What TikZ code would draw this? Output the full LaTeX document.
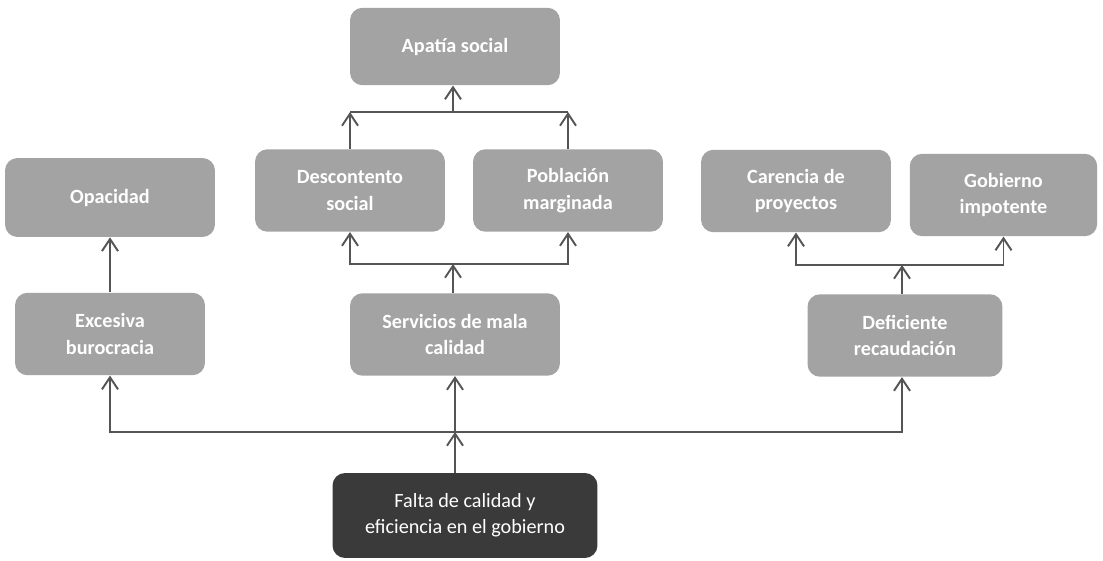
\documentclass[tikz,border=0pt]{standalone}
\usepackage{fontspec}
\setmainfont{Carlito}
\usepackage{tikz}
\usetikzlibrary{arrows,arrows.meta,positioning}
\definecolor{boxgray}{RGB}{163,163,163}
\definecolor{darkbox}{RGB}{58,58,58}
\definecolor{linegray}{RGB}{85,85,85}

\begin{document}
\begin{tikzpicture}[
    x=0.02cm, y=-0.02cm,
    >={Straight Barb[length=2.4mm,width=3.2mm]},
    font=\fontsize{11}{14.5}\selectfont,
    effect/.style={
		rectangle,
		rounded corners=2.5mm,
		fill=boxgray,
		text=white,
		font=\fontsize{11.5}{15}\selectfont\bfseries,
		align=center,
		minimum width=3.8cm,
		minimum height=1.65cm
	},
	problem/.style={
		effect,
		fill=darkbox,
		font=\fontsize{11.5}{15}\selectfont,
		minimum width=5.3cm,
		minimum height=1.7cm
	},
	link/.style={
		draw=linegray,
		line width=1.1pt
	}
  ]
  \useasboundingbox (0,0) rectangle (1103,561);

    % upper blocks
  \node [effect, minimum width=4.2cm, minimum height=1.55cm] (apatia) at (455,46.5) {Apat\'ia social};
  \node [effect] (descontento) at (350,190.5) {Descontento\\social};
  \node [effect] (poblacion) at (568,190.5) {Poblaci\'on\\marginada};
  \node [effect, minimum width=4.2cm, minimum height=1.58cm] (opacidad) at (110,197.5) {Opacidad};
  \node [effect] (carencia) at (796,191) {Carencia de\\proyectos};
  \node [effect, minimum width=3.75cm] (gobierno) at (1003.5,195) {Gobierno\\impotente};

    % middle blocks
  \node [effect] (excesiva) at (110,334) {Excesiva\\burocracia};
  \node [effect, minimum width=4.2cm] (servicios) at (455,334.5) {Servicios de mala\\calidad};
  \node [effect, minimum width=3.9cm] (deficiente) at (905,335.5) {Deficiente\\recaudaci\'on};

    % the problem
  \node [problem] (falta) at (465,515.5) {Falta de calidad y\\eficiencia en el gobierno};

    % junction points
  \coordinate (bbar) at (455,432);
  \coordinate (mbar) at (453,264);
  \coordinate (rbar) at (902,265);
  \coordinate (tbar) at (453,112);

 \draw [link,->] (falta.north -| bbar) -- (bbar);
 \draw [link,->] (bbar) -- (servicios.south -| bbar);
 \draw [link,->] (bbar) -| (excesiva.south);
 \draw [link,->] (bbar) -| (deficiente.south -| rbar);
 \draw [link,->] (excesiva.north) -- (opacidad.south);

 \draw [link,->] (servicios.north -| mbar) -- (mbar);
 \draw [link,->] (mbar) -| (descontento.south);
 \draw [link,->] (mbar) -| (poblacion.south);

 \draw [link,->] (deficiente.north -| rbar) -- (rbar);
 \draw [link,->] (rbar) -| (carencia.south);
 \draw [link,->] (rbar) -| (gobierno.south);

 \draw [link] (descontento.north |- tbar) -- (poblacion.north |- tbar);
 \draw [link,->] (descontento.north) -- (descontento.north |- tbar);
 \draw [link,->] (poblacion.north) -- (poblacion.north |- tbar);
 \draw [link,->] (tbar) -- (apatia.south -| tbar);
\end{tikzpicture}
\end{document}
